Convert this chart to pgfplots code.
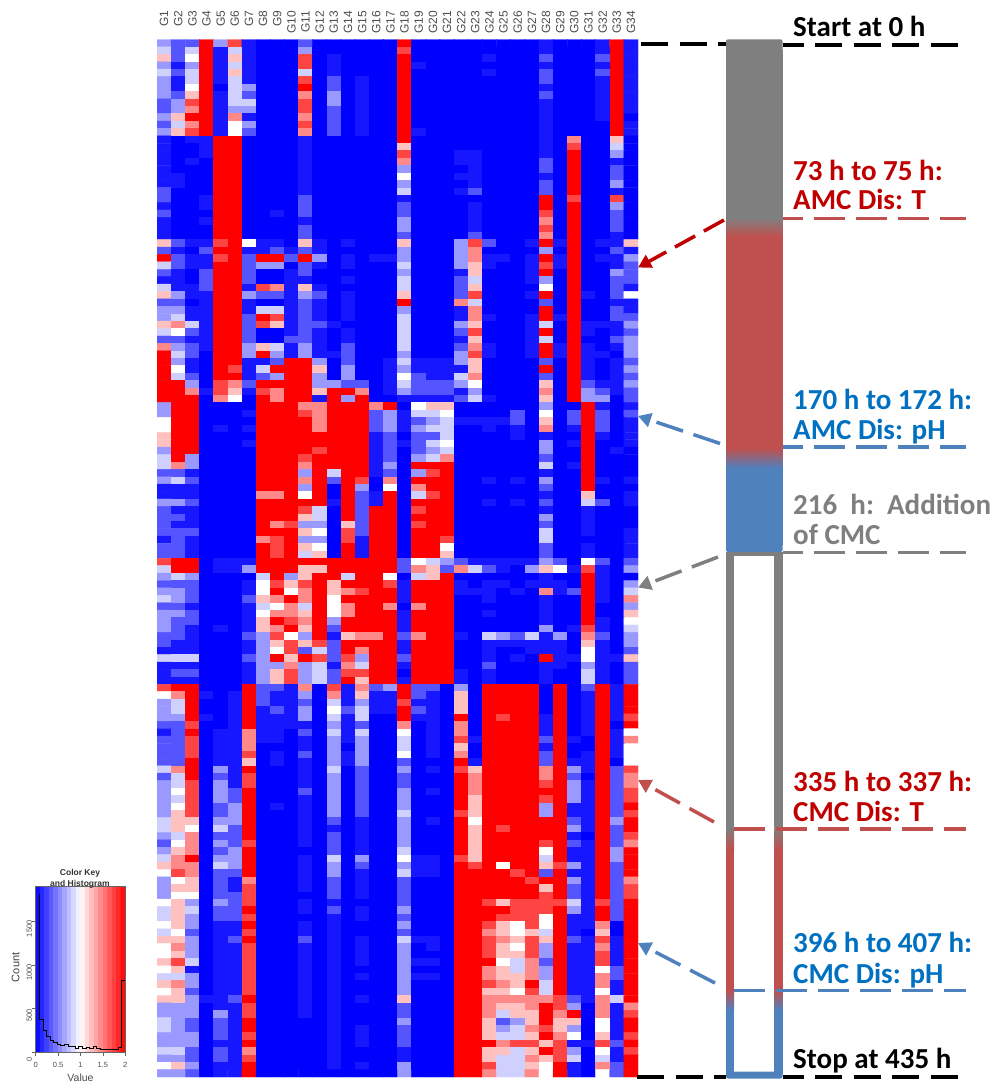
\documentclass[border=0pt]{standalone}
\usepackage{fontspec}
\setmainfont{Carlito}
\newfontfamily\arialf{Liberation Sans}
\usepackage{pgfplots}
\pgfplotsset{compat=1.18}
\usetikzlibrary{arrows.meta}
\definecolor{tred}{HTML}{C00000}
\definecolor{tblue}{HTML}{0070C0}
\definecolor{lred}{HTML}{C0504D}
\definecolor{lblue}{HTML}{4F81BD}
\definecolor{lgray}{HTML}{7F7F7F}
\pgfplotsset{
  colormap={hm}{rgb255(0)=(0,0,255) rgb255(1)=(22,22,255) rgb255(2)=(85,85,255) rgb255(3)=(153,153,255) rgb255(4)=(208,208,255) rgb255(5)=(255,255,255) rgb255(6)=(255,192,192) rgb255(7)=(255,136,136) rgb255(8)=(255,68,68) rgb255(9)=(255,0,0)},
  colormap={key}{rgb255(0)=(0,0,255) rgb255(1)=(255,255,255) rgb255(2)=(255,0,0)}
}
\newtoks\heatall \newtoks\heatrow \newcount\hmr \newcount\hmc
\def\hmd#1{\ifx#1\relax\else\edef\hmtmp{(\the\hmc,\the\hmr)[#1] }\heatrow=\expandafter\expandafter\expandafter{\expandafter\the\expandafter\heatrow\hmtmp}\advance\hmc by 1 \expandafter\hmd\fi}
\def\hrow#1{\hmc=0 \heatrow={}\hmd#1\relax\heatall=\expandafter\expandafter\expandafter{\expandafter\the\expandafter\heatall\the\heatrow}\advance\hmr by 1 }
\hrow{32293810002000000 90000000001000191}
\hrow{42491410003000000 80000000001000191}
\hrow{62591610008010000 90000010002000291}
\hrow{31391410008010000 91000000001000191}
\hrow{42491610004010000 90000010002000291}
\hrow{31491410008020100 90000000002000191}
\hrow{31590430009020100 90000000001000191}
\hrow{32691420007030100 90000000002000191}
\hrow{23891440008030100 90000000001000191}
\hrow{23791330008020100 90000000001000191}
\hrow{36991710007020100 90000000001000190}
\hrow{24791530008020100 90000000001000091}
\hrow{36891520007020100 91000000001000091}
\hrow{10119900001000000 90000000001070060}
\hrow{10019900001000000 60000000001080040}
\hrow{10019900001000000 80001100001090030}
\hrow{10109900001000000 70001100002090010}
\hrow{10009900001000000 30000100002090020}
\hrow{11009900001000000 50001100001090020}
\hrow{11009900001000000 30000100002090030}
\hrow{20009900001000000 40001200002090010}
\hrow{20019900002000000 10000000009080080}
\hrow{10019900002000000 20000100009090030}
\hrow{20009900102000000 20000100008090020}
\hrow{10019900001000000 30000100007090020}
\hrow{10009900002000000 30000100008090020}
\hrow{10009900002000000 20000200007090010}
\hrow{62118951106101000 60003820019190116}
\hrow{21029911212100000 30003700003090021}
\hrow{92118929929301011 30003711019190113}
\hrow{42119923302101000 40003610018190012}
\hrow{21029920012000000 30001600019090032}
\hrow{11029920011001000 40002400013090022}
\hrow{41129918716100000 40002600005090021}
\hrow{63119932213201000 60002800019091025}
\hrow{22019910012101000 90007400002090011}
\hrow{33119914412101000 30001700009090021}
\hrow{34119929812101000 40001710019190022}
\hrow{67419928612210000 40003600014091113}
\hrow{45219920012101000 40002800019091012}
\hrow{22119920022101000 40001600014090023}
\hrow{73219936413102000 40002710019191013}
\hrow{94209939313112000 30003810019191103}
\hrow{93109911299302001 41113600002091012}
\hrow{95109814999603001 31111600009091013}
\hrow{94209912399303001 52114700002091012}
\hrow{99308729999332201 42223500006092113}
\hrow{99718618799699701 32221300007093212}
\hrow{99907509799193900 11112410006093302}
\hrow{39900009997799979 05660000003009101}
\hrow{39900019998799923 14450000205029202}
\hrow{59900009999799923 12341111206029201}
\hrow{59901019999799923 13440010107019201}
\hrow{69900009999999912 02240000101009101}
\hrow{69900019999999912 12450000003019001}
\hrow{39900009999899912 02340000003009010}
\hrow{49300009998999912 03470000002009000}
\hrow{47300009997999913 09990000004019000}
\hrow{22100009993949912 03890000001009000}
\hrow{34200009997929807 09990010103009101}
\hrow{11100009993909305 07990000002009000}
\hrow{11100007795909219 04890000001006001}
\hrow{33200009999919219 09990010102004201}
\hrow{21100009998409299 08990000001001000}
\hrow{22100009996409299 09990000003001000}
\hrow{21100009783306299 08990000002001000}
\hrow{22200009996508299 09990000004001001}
\hrow{12100007893308199 09980000004000001}
\hrow{22100009896509199 09950000002001001}
\hrow{22100009894609199 09960000002001001}
\hrow{89901119999999999 25432111113205202}
\hrow{49901139996699999 27627421036518103}
\hrow{34300004936994995 04690000001009100}
\hrow{22200015868969998 19991011011109103}
\hrow{33200015957967899 19991110107129104}
\hrow{43200026797959999 19990010001009107}
\hrow{22100014574957997 07990000001009003}
\hrow{33200015776957999 19990010001009006}
\hrow{32200016987939999 19990000001009105}
\hrow{32101016796929999 19990000003018104}
\hrow{22100023853916779 27991043241307203}
\hrow{21100013686829999 19990011111106103}
\hrow{11100013582429799 19990010011105102}
\hrow{44400023969828399 29990010109115116}
\hrow{11100013373417499 19990020001103102}
\hrow{12200013683428899 09991010001004102}
\hrow{11100013683429699 19991010001004102}
\hrow{89900092217081723 92203099990902919}
\hrow{57910192113071611 92106099990901919}
\hrow{34900192112041311 81106099990901919}
\hrow{34900191213052411 92106099990901919}
\hrow{33910191113041400 91109098991901918}
\hrow{22800191111031200 70107099991901909}
\hrow{12901171102041400 50107099991901915}
\hrow{22801171101031300 40108199992910917}
\hrow{22801170001030300 40106099991900915}
\hrow{22801180102031300 50107099992901915}
\hrow{22901160101031300 20009199992911905}
\hrow{47903190001040200 30108699997931928}
\hrow{24902180001030200 20009799997920927}
\hrow{34803180001030200 20009799998931927}
\hrow{35803290002030200 30109799999931928}
\hrow{34803290001030200 30009699998931928}
\hrow{35802390101030200 30009699993911929}
\hrow{36802390001030200 40008699993911928}
\hrow{46603390001020100 30109599999921939}
\hrow{46504290001010100 30009698999931929}
\hrow{34702290001020100 30009699999910928}
\hrow{25703280001020100 30009699998921927}
\hrow{36702390000020100 40009699995911939}
\hrow{47903390001040300 51108699994911939}
\hrow{67704390001030200 31109895996831929}
\hrow{58702290001030100 41109999892911929}
\hrow{35602170001020100 20009999989931927}
\hrow{36602180001020100 20009999996921928}
\hrow{35502280000020100 20009999998921928}
\hrow{56303280001010000 20009986888841829}
\hrow{46402290001020100 30009999888931929}
\hrow{46302280000010100 20009998885911929}
\hrow{56301190001010000 30009986585911709}
\hrow{45201180001010000 20009976564910609}
\hrow{66301290002010100 41109987686921819}
\hrow{57301180001010100 30109986583911719}
\hrow{56301180001010100 30009986683911819}
\hrow{68401180001010100 31109995472911819}
\hrow{56101180001010000 30009976473911529}
\hrow{44301180001010100 31109976673911729}
\hrow{67301180001010000 30009987694911719}
\hrow{56201180001010000 30009966584911519}
\hrow{66311290001010100 60009977777821749}
\hrow{33301180001010000 20009976679830717}
\hrow{33303180001010000 20009974669790718}
\hrow{43202190000010000 30009962369660519}
\hrow{43202190000010100 20009963478630519}
\hrow{33302180000010100 20009964469750618}
\hrow{33301190000010100 20009997886811829}
\hrow{44202170000010000 10009966469830518}
\hrow{33202180000010000 10009964476840419}
\hrow{56301190000010100 30009984465910729}
\hrow{33201190000000000 30009974475910529}
\edef\hmplot{\noexpand\addplot[matrix plot*,mesh/cols=34,point meta=explicit] coordinates {\the\heatall};}
\begin{document}
\begin{tikzpicture}
\path[use as bounding box] (0pt,0pt) rectangle (995pt,-1083pt);
% heat map
\begin{axis}[
  at={(157pt,-1077pt)},anchor=south west,scale only axis,
  width=481pt,height=1037.5pt,
  xmin=-0.5,xmax=33.5,ymin=-0.5,ymax=139.5,y dir=reverse,
  colormap name=hm,point meta min=0,point meta max=9,
  axis line style={draw=none},major tick length=0pt,
  ytick=\empty,
  xtick={0,1,...,33},
  xticklabels={G1,G2,G3,G4,G5,G6,G7,G8,G9,G10,G11,G12,G13,G14,G15,G16,G17,G18,G19,G20,G21,G22,G23,G24,G25,G26,G27,G28,G29,G30,G31,G32,G33,G34},
  xticklabel pos=top,
  xticklabel shift=29pt,
  xticklabel style={rotate=90,anchor=east,inner sep=0pt,text=black!70,font=\fontsize{12}{12}\selectfont\arialf},
]
\hmplot
\end{axis}
% colour key
\begin{axis}[
  at={(35.7pt,-1052pt)},anchor=south west,scale only axis,
  width=89.6pt,height=166pt,
  xmin=0,xmax=2,ymin=0,ymax=1912,
  colormap name=key,point meta min=0,point meta max=2,
  axis line style={black!60,line width=0.6pt},
  axis on top,
  xtick={0,0.5,1,1.5,2},xticklabels={0,0.5,1,1.5,2},
  ytick={0,500,1000,1500},yticklabels={0,500,1000,1500},
  xtick pos=bottom,ytick pos=left,tick align=outside,major tick length=3.5pt,
  tick style={black!60,line width=0.6pt},
  xticklabel style={inner sep=0pt,yshift=-7pt,text=black!70,font=\fontsize{7.5}{8}\selectfont\arialf},
  yticklabel style={rotate=90,anchor=south,inner sep=0pt,xshift=-7pt,text=black!70,font=\fontsize{7.5}{8}\selectfont\arialf},
  xlabel={Value},ylabel={Count},
  xlabel style={inner sep=0pt,font=\fontsize{10.5}{10.5}\selectfont\arialf,text=black!70,yshift=-6pt},
  ylabel style={at={(axis description cs:0,0.51)},anchor=south,inner sep=0pt,yshift=16pt,font=\fontsize{11}{11}\selectfont\arialf,text=black!75},
]
\addplot[matrix plot*,mesh/cols=20,point meta=explicit] coordinates {
(0.05,-10)[0.05] (0.15,-10)[0.15] (0.25,-10)[0.25] (0.35,-10)[0.35] (0.45,-10)[0.45] (0.55,-10)[0.55] (0.65,-10)[0.65] (0.75,-10)[0.75] (0.85,-10)[0.85] (0.95,-10)[0.95] (1.05,-10)[1.05] (1.15,-10)[1.15] (1.25,-10)[1.25] (1.35,-10)[1.35] (1.45,-10)[1.45] (1.55,-10)[1.55] (1.65,-10)[1.65] (1.75,-10)[1.75] (1.85,-10)[1.85] (1.95,-10)[1.95]
(0.05,2000)[0.05] (0.15,2000)[0.15] (0.25,2000)[0.25] (0.35,2000)[0.35] (0.45,2000)[0.45] (0.55,2000)[0.55] (0.65,2000)[0.65] (0.75,2000)[0.75] (0.85,2000)[0.85] (0.95,2000)[0.95] (1.05,2000)[1.05] (1.15,2000)[1.15] (1.25,2000)[1.25] (1.35,2000)[1.35] (1.45,2000)[1.45] (1.55,2000)[1.55] (1.65,2000)[1.65] (1.75,2000)[1.75] (1.85,2000)[1.85] (1.95,2000)[1.95]
};
\addplot[const plot,black,line width=0.7pt] coordinates {
(0.07,1820)(0.08,1820)(0.08,375)(0.16,250)(0.24,180)(0.32,140)(0.40,110)(0.48,85)(0.56,80)(0.64,85)(0.72,70)(0.80,60)(0.88,40)(0.96,60)(1.04,45)(1.12,50)(1.20,40)(1.28,60)(1.36,45)(1.44,35)(1.52,30)(1.60,30)(1.68,30)(1.76,25)(1.84,50)(1.92,830)(1.99,830)(1.99,0)
};
\end{axis}
\node[inner sep=0pt,anchor=base,font=\fontsize{8.5}{8.5}\selectfont\arialf\bfseries,text=black!80] at (80pt,-875pt) {Color Key};
\node[inner sep=0pt,anchor=base,font=\fontsize{8.5}{8.5}\selectfont\arialf\bfseries,text=black!80] at (80pt,-886pt) {and Histogram};
% time bar
\begin{scope}[x=1pt,y=-1pt]
\fill[lgray,rounded corners=2pt] (726,39.3) rectangle (782.5,60);
\fill[lgray] (726,50) rectangle (782.5,218);
\shade[top color=lgray,bottom color=lred,middle color=lgray!50!lred] (726,218) rectangle (782.5,237);
\fill[lred] (726,236.5) rectangle (782.5,448.5);
\shade[top color=lred,bottom color=lblue] (726,448) rectangle (782.5,468);
\fill[lblue] (726,467.5) rectangle (782.5,545);
\fill[lblue,rounded corners=2pt] (726,535) rectangle (782.5,552);
% hollow part
\fill[lgray] (726,552) rectangle (782.5,555.5);
\fill[lgray] (726,552) rectangle (734,827);
\fill[lgray] (774.3,552) rectangle (782.5,827);
\shade[top color=lgray,bottom color=lred] (726,827) rectangle (734,850);
\shade[top color=lgray,bottom color=lred] (774.3,827) rectangle (782.5,850);
\fill[lred] (726,849.5) rectangle (734,990);
\fill[lred] (774.3,849.5) rectangle (782.5,990);
\shade[top color=lred,bottom color=lblue] (726,990) rectangle (734,1010);
\shade[top color=lred,bottom color=lblue] (774.3,990) rectangle (782.5,1010);
\fill[lblue] (726,1009.5) rectangle (734,1074);
\fill[lblue] (774.3,1009.5) rectangle (782.5,1074);
\fill[lblue,rounded corners=2pt] (726,1071.5) rectangle (782.5,1078.5);
% dashed lines
\draw[black,line width=4pt,dash pattern=on 27pt off 11.5pt] (641,44) -- (726,44);
\draw[black,line width=4pt,dash pattern=on 27pt off 11.5pt,dash phase=6pt] (782.5,44.6) -- (963,44.6);
\draw[black,line width=4pt,dash pattern=on 27pt off 11.5pt] (637,1077) -- (726,1077);
\draw[black,line width=4pt,dash pattern=on 27pt off 11.5pt,dash phase=6pt] (782.5,1077) -- (963,1077);
\draw[lred,line width=3.5pt,dash pattern=on 31pt off 11pt,dash phase=11pt] (782.5,218.3) -- (966,218.3);
\draw[lblue,line width=3.5pt,dash pattern=on 31pt off 11pt,dash phase=11pt] (782.5,446.8) -- (966,446.8);
\draw[lgray,line width=3.5pt,dash pattern=on 31pt off 11pt,dash phase=11pt] (782.5,552.7) -- (966,552.7);
\draw[lred,line width=3.5pt,dash pattern=on 31pt off 11pt] (734,829) -- (966,829);
\draw[lblue,line width=3.5pt,dash pattern=on 31pt off 11pt] (734,990.7) -- (966,990.7);
% arrows
\draw[tred,line width=3.5pt,dash pattern=on 23pt off 10pt,-{Triangle[length=13pt,width=14pt]}] (724,220) -- (638,267.5);
\draw[lblue,line width=3.5pt,dash pattern=on 28pt off 11pt,-{Triangle[length=13pt,width=14pt]}] (720,443.5) -- (638,416);
\draw[lgray,line width=3.5pt,dash pattern=on 28pt off 11pt,-{Triangle[length=13pt,width=14pt]}] (718,557) -- (638,587.5);
\draw[lred,line width=3.5pt,dash pattern=on 28pt off 11pt,-{Triangle[length=13pt,width=14pt]}] (714,822) -- (638,780);
\draw[lblue,line width=3.5pt,dash pattern=on 28pt off 11pt,-{Triangle[length=13pt,width=14pt]}] (715,983) -- (638,943);
% texts
\tikzset{lab/.style={inner sep=0pt,anchor=base west,font=\fontsize{29}{29}\selectfont\bfseries}}
\node[lab,text=black] at (793,36.7) {Start at 0 h};
\node[lab,text=tred] at (793,180.7) {73 h to 75 h:};
\node[lab,text=tred] at (793,210) {AMC Dis: T};
\node[lab,text=tblue] at (793,409.3) {170 h to 172 h:};
\node[lab,text=tblue] at (793,439) {AMC Dis: pH};
\node[lab,text=lgray] at (793,514) {216\ \ h:\ \ Addition};
\node[lab,text=lgray] at (793,544) {of CMC};
\node[lab,text=tred] at (793,791) {335 h to 337 h:};
\node[lab,text=tred] at (793,821.7) {CMC Dis: T};
\node[lab,text=tblue] at (793,952.7) {396 h to 407 h:};
\node[lab,text=tblue] at (793,983) {CMC Dis: pH};
\node[lab,text=black] at (793,1068) {Stop at 435 h};
\end{scope}
\end{tikzpicture}
\end{document}
